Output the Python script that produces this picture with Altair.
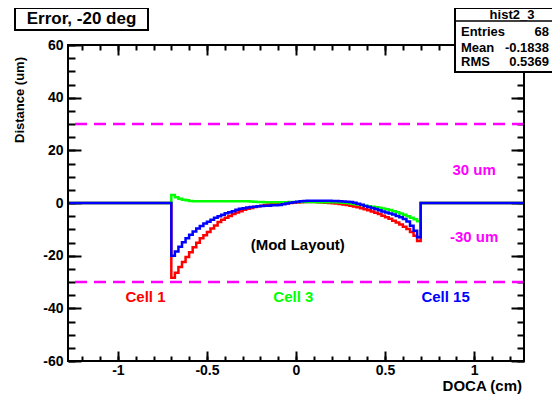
import altair as alt
import pandas as pd

# ---------------- data ----------------
hist_range = [-1.28, 1.28]
bin_lo, bin_width, n_bins = -0.70, 0.02, 70
outside_value = 0.0

cell1 = [-28.4, -26.5, -24.3, -22.4, -20.5, -18.7, -16.8, -15.1, -13.4, -12.2,
         -11.0, -9.7, -8.5, -7.2, -6.4, -5.6, -4.9, -4.2, -3.6, -3.1,
         -2.6, -2.2, -1.9, -1.5, -1.2, -1.0, -0.8, -0.6, -0.5, -0.4,
         -0.3, -0.2, -0.1, 0.0, 0.1, 0.2, 0.3, 0.4, 0.4, 0.4,
         0.4, 0.3, 0.2, 0.1, 0.0, -0.1, -0.2, -0.4, -0.6, -0.8,
         -1.0, -1.3, -1.6, -2.0, -2.4, -2.8, -3.2, -3.7, -4.2, -4.8,
         -5.4, -6.0, -6.7, -7.4, -8.2, -9.0, -9.9, -11.0, -12.4, -14.4]

cell3 = [3.0, 2.2, 1.6, 1.2, 1.0, 0.8, 0.7, 0.7, 0.7, 0.7,
         0.7, 0.7, 0.7, 0.7, 0.7, 0.7, 0.7, 0.7, 0.7, 0.7,
         0.7, 0.7, 0.6, 0.5, 0.4, 0.4, 0.3, 0.3, 0.3, 0.3,
         0.3, 0.3, 0.3, 0.4, 0.4, 0.4, 0.4, 0.4, 0.4, 0.4,
         0.4, 0.3, 0.3, 0.3, 0.3, 0.3, 0.3, 0.2, 0.1, 0.0,
         -0.2, -0.4, -0.6, -0.8, -1.0, -1.2, -1.4, -1.6, -1.8, -2.1,
         -2.4, -2.7, -3.1, -3.5, -4.0, -4.5, -5.0, -5.6, -6.2, -6.9]

cell15 = [-20.0, -18.4, -16.6, -14.9, -13.4, -12.1, -10.8, -9.7, -8.7, -7.8,
          -7.1, -6.4, -5.6, -5.0, -4.5, -3.9, -3.5, -3.1, -2.6, -2.2,
          -2.0, -1.7, -1.5, -1.4, -1.2, -1.1, -1.0, -1.0, -0.9, -0.9,
          -0.8, -0.5, -0.2, 0.1, 0.3, 0.5, 0.7, 0.8, 0.9, 0.9,
          0.9, 0.9, 0.9, 0.9, 0.9, 0.8, 0.8, 0.7, 0.6, 0.5,
          0.4, 0.1, -0.3, -0.7, -1.1, -1.5, -1.9, -2.3, -2.8, -3.2,
          -3.6, -4.0, -4.4, -4.9, -5.4, -6.1, -7.0, -8.6, -10.5, -13.0]

limits = [30, -30]
x_major = [-1, -0.5, 0, 0.5, 1]
x_minor = [round(-1.2 + 0.1 * i, 1) for i in range(25)]
y_major = [-60, -40, -20, 0, 20, 40, 60]
y_minor = list(range(-60, 61, 5))

stats_names = ["Entries", "Mean", "RMS"]
stats_values = ["68", "-0.1838", "0.5369"]

edges = [round(bin_lo + bin_width * i, 2) for i in range(n_bins + 1)]


def curve(vals):
    xs = [hist_range[0]] + edges[:-1] + [edges[-1], hist_range[1]]
    ys = [outside_value] + list(vals) + [outside_value, outside_value]
    return pd.DataFrame({"x": xs, "y": ys})


# ---------------- styling ----------------
W, H = 456, 316
FONT = "Liberation Sans"
GREEN = "#00ff00"
xscale = alt.Scale(domain=hist_range, nice=False, zero=False)
yscale = alt.Scale(domain=[-60, 60], nice=False, zero=False)
one = pd.DataFrame({"k": [0]})
LBL = "datum.value < 0 ? '-' + format(-datum.value, '~g') : format(datum.value, '~g')"


def ax(orient, values, size, labels=False, pad=4):
    kw = dict(orient=orient, values=values, tickSize=size, offset=-size,
              domain=False, grid=False, ticks=True, tickColor="black",
              tickWidth=2, labels=labels)
    if labels:
        kw.update(labelFont=FONT, labelFontSize=14, labelFontWeight="bold",
                  labelColor="black", labelPadding=pad, labelFlush=False,
                  labelOverlap=False, labelExpr=LBL)
    return alt.Axis(**kw)


def hist_line(vals, color, xax, yax, opacity=1.0):
    return alt.Chart(curve(vals)).mark_line(
        interpolate="step-after", color=color, strokeWidth=2.5, opacity=opacity
    ).encode(
        x=alt.X("x:Q", scale=xscale, axis=xax, title=None),
        y=alt.Y("y:Q", scale=yscale, axis=yax, title=None),
    )


red = hist_line(cell1, "#ff0000", ax("bottom", x_major, 10, True, 2), ax("left", y_major, 13, True, 5))
green = hist_line(cell3, GREEN, ax("bottom", x_minor, 5), ax("left", y_minor, 7))
blue = hist_line(cell15, "#0000ff", ax("top", x_major, 10), ax("right", y_major, 13))
ghost = hist_line(cell15, "#0000ff", ax("top", x_minor, 5), ax("right", y_minor, 7), opacity=0)

rules = alt.Chart(pd.DataFrame({"y": limits})).mark_rule(
    color="#ff00ff", strokeWidth=2.5, strokeDash=[12, 7]
).encode(y=alt.Y("y:Q", scale=yscale, axis=None))


def note(txt, x, y, color, size=15):
    return alt.Chart(one).mark_text(
        text=txt, font=FONT, fontWeight="bold", fontSize=size, color=color,
        baseline="middle", align="center"
    ).encode(
        x=alt.XDatum(x, scale=xscale, axis=None),
        y=alt.YDatum(y, scale=yscale, axis=None),
    )


notes = [
    note("30 um", 1.0, 12.5, "#ff00ff"),
    note("-30 um", 1.0, -12.9, "#ff00ff"),
    note("(Mod Layout)", 0.01, -15.8, "black"),
    note("Cell 1", -0.845, -35.6, "#ff0000"),
    note("Cell 3", -0.015, -35.6, GREEN),
    note("Cell 15", 0.84, -35.6, "#0000ff"),
]


def ptext(txt, x, y, size=13, align="left", angle=0, color="black", baseline="middle"):
    return alt.Chart(one).mark_text(
        text=txt, font=FONT, fontWeight="bold", fontSize=size, color=color,
        align=align, baseline=baseline, angle=angle
    ).encode(x=alt.value(x), y=alt.value(y))


def box(x1, x2, y1, y2, sw=2, fill="white", fop=1):
    return alt.Chart(one).mark_rect(
        fill=fill, fillOpacity=fop, stroke="black", strokeWidth=sw
    ).encode(x=alt.value(x1), x2=alt.value(x2), y=alt.value(y1), y2=alt.value(y2))


frame = box(0, W, 0, H, sw=2, fill="white", fop=0)

decor = [
    frame,
    ptext("Distance (um)", -48, 12, size=13, align="right", angle=270),
    ptext("DOCA (cm)", 454, 346, size=15, align="right", baseline="alphabetic"),
    box(-53, 80, -37, -15),
    ptext("Error, -20 deg", 13.5, -26, size=17, align="center"),
    box(387, 495, -37, 27),
    alt.Chart(one).mark_rule(color="black", strokeWidth=1.5).encode(
        x=alt.value(387), x2=alt.value(495), y=alt.value(-24)),
    ptext("hist2_3", 444, -30.5, size=13, align="center"),
]
row_y = [-13, 2.5, 17]
for name, val, yy in zip(stats_names, stats_values, row_y):
    decor.append(ptext(name, 393, yy, size=13, align="left"))
    decor.append(ptext(val, 481, yy, size=13, align="right"))

chart = alt.layer(
    rules, red, green, blue, ghost, *notes, *decor
).properties(
    width=W, height=H,
    padding={"left": 60, "top": 37, "right": 28, "bottom": 33},
    autosize=alt.AutoSizeParams(type="none"),
).resolve_axis(
    x="independent", y="independent"
).configure_view(strokeWidth=0)

chart.save("out.html", embed_options={"renderer": "svg", "actions": False})
